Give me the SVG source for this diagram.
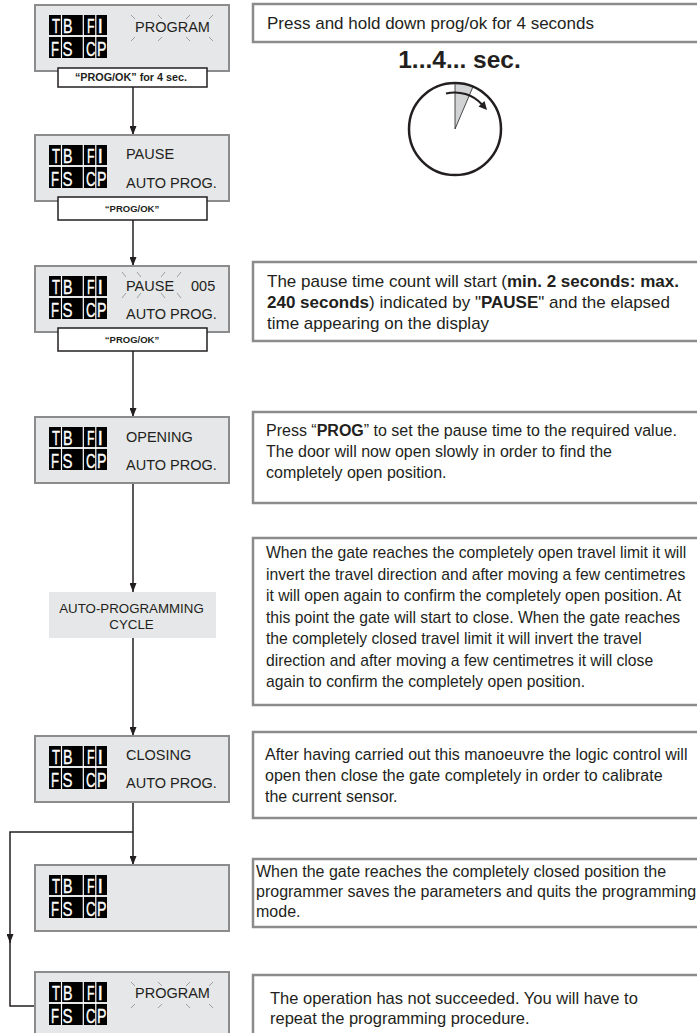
<svg xmlns="http://www.w3.org/2000/svg" xmlns:xlink="http://www.w3.org/1999/xlink" width="697" height="1033" viewBox="0 0 697 1033">
<style>
.lcd{fill:#e6e7e8;stroke:#8c8c8c;stroke-width:2}
.btn{fill:#fff;stroke:#231f20;stroke-width:1.5}
.btxt{font-family:"Liberation Sans",Arial,sans-serif;font-size:9.5px;font-weight:bold;fill:#231f20;text-anchor:middle}
.dt{font-family:"Liberation Sans",Arial,sans-serif;font-size:14.5px;fill:#231f20}
.ico{font-family:"Liberation Sans",Arial,sans-serif;font-size:21px;fill:#fff;stroke:#fff;stroke-width:0.35}
.box{fill:#fff;stroke:#8c8c8c;stroke-width:2.5}
.pt{font-family:"Liberation Sans",Arial,sans-serif;font-size:16px;fill:#231f20}
.p17{font-size:17px}
.p157{font-size:15.7px}
.p165{font-size:16.5px}
.b{font-weight:bold}
.conn{fill:none;stroke:#231f20;stroke-width:1.5}
.spk{stroke:#8c8c8c;stroke-width:0.8}
</style>
<defs>
<marker id="ah" viewBox="0 0 9 7" refX="9" refY="3.5" markerWidth="9" markerHeight="7" markerUnits="userSpaceOnUse" orient="auto"><path d="M0,0 L9,3.5 L0,7 z" fill="#231f20"/></marker>
<g id="icons">
<rect x="49" y="10" width="58" height="20" fill="#000"/>
<rect x="49" y="32" width="58" height="21" fill="#000"/>
<path d="M61.5,10V53M83.3,10V53M95.8,10V53" stroke="#fff" stroke-width="1.2"/>
<text class="ico" x="52" y="28" textLength="8" lengthAdjust="spacingAndGlyphs">T</text>
<text class="ico" x="63" y="28" textLength="9.5" lengthAdjust="spacingAndGlyphs">B</text>
<text class="ico" x="87" y="28" textLength="7.5" lengthAdjust="spacingAndGlyphs">F</text>
<text class="ico" x="97.5" y="28" textLength="5.5" lengthAdjust="spacingAndGlyphs">I</text>
<text class="ico" x="51" y="51" textLength="8" lengthAdjust="spacingAndGlyphs">F</text>
<text class="ico" x="62.5" y="51" textLength="10" lengthAdjust="spacingAndGlyphs">S</text>
<text class="ico" x="86" y="51" textLength="9.5" lengthAdjust="spacingAndGlyphs">C</text>
<text class="ico" x="97" y="51" textLength="9.5" lengthAdjust="spacingAndGlyphs">P</text>
</g>
</defs>

<g id="connectors">
<path class="conn" d="M133,87V135" marker-end="url(#ah)"/>
<path class="conn" d="M133,220V266" marker-end="url(#ah)"/>
<path class="conn" d="M133,351V417" marker-end="url(#ah)"/>
<path class="conn" d="M133,483V592" marker-end="url(#ah)"/>
<path class="conn" d="M133,638V736" marker-end="url(#ah)"/>
<path class="conn" d="M133,802V865" marker-end="url(#ah)"/>
<path class="conn" d="M133,832H10V943" marker-end="url(#ah)"/>
<path class="conn" d="M10,940V1006H35"/>
</g>

<g id="lcd-program-1">
<rect class="lcd" x="35" y="5" width="194" height="66"/>
<use xlink:href="#icons" y="5"/>
<text class="dt" x="135" y="32">PROGRAM</text>
<path class="spk" d="M131,15L135,19M158,15L162,19M190,15L186,19M213,15L209,19M135,37L131,41M162,37L158,41M186,37L190,41M209,37L213,41"/>
</g>
<g id="btn-1">
<rect class="btn" x="58" y="68" width="149" height="19"/>
<text class="btxt" x="131" y="81" style="font-size:10.8px">“PROG/OK” for 4 sec.</text>
</g>

<g id="lcd-pause">
<rect class="lcd" x="35" y="135" width="194" height="66"/>
<use xlink:href="#icons" y="135"/>
<text class="dt" x="126" y="159">PAUSE</text>
<text class="dt" x="126" y="188">AUTO PROG.</text>
</g>
<g id="btn-2">
<rect class="btn" x="58" y="197" width="149" height="23"/>
<text class="btxt" x="132" y="212">“PROG/OK”</text>
</g>

<g id="lcd-pause-005">
<rect class="lcd" x="35" y="266" width="194" height="66"/>
<use xlink:href="#icons" y="266"/>
<text class="dt" x="126" y="291">PAUSE</text>
<text class="dt" x="191" y="291">005</text>
<text class="dt" x="126" y="319">AUTO PROG.</text>
<path class="spk" d="M122,272L126,277M137,272L141,277M165,272L161,277M181,272L177,277M126,293L122,298M141,293L137,298M161,293L165,298M177,293L181,298"/>
</g>
<g id="btn-3">
<rect class="btn" x="58" y="328" width="149" height="23"/>
<text class="btxt" x="132" y="343">“PROG/OK”</text>
</g>

<g id="lcd-opening">
<rect class="lcd" x="35" y="417" width="194" height="66"/>
<use xlink:href="#icons" y="417"/>
<text class="dt" x="126" y="442">OPENING</text>
<text class="dt" x="126" y="470">AUTO PROG.</text>
</g>

<g id="auto-cycle">
<rect x="49" y="592" width="167" height="46" fill="#e6e7e8"/>
<text class="dt" x="131.5" y="613" text-anchor="middle" style="font-size:13.3px">AUTO-PROGRAMMING</text>
<text class="dt" x="131.5" y="629" text-anchor="middle" style="font-size:13.3px">CYCLE</text>
</g>

<g id="lcd-closing">
<rect class="lcd" x="35" y="736" width="194" height="66"/>
<use xlink:href="#icons" y="736"/>
<text class="dt" x="126" y="760">CLOSING</text>
<text class="dt" x="126" y="788">AUTO PROG.</text>
</g>

<g id="lcd-blank">
<rect class="lcd" x="35" y="865" width="194" height="66"/>
<use xlink:href="#icons" y="865"/>
</g>

<g id="lcd-program-2">
<rect class="lcd" x="35" y="972" width="194" height="66"/>
<use xlink:href="#icons" y="972"/>
<text class="dt" x="135" y="998">PROGRAM</text>
<path class="spk" d="M131,982L135,986M158,982L162,986M190,982L186,986M213,982L209,986M135,1004L131,1008M162,1004L158,1008M186,1004L190,1008M209,1004L213,1008"/>
</g>

<g id="note-1">
<rect class="box" x="253" y="4" width="450" height="38"/>
<text class="pt p17" x="267" y="29">Press and hold down prog/ok for 4 seconds</text>
</g>

<g id="clock">
<text x="459.5" y="68" text-anchor="middle" font-family="Liberation Sans,Arial,sans-serif" font-size="24.5" font-weight="bold" fill="#231f20">1...4... sec.</text>
<path d="M455,129L455,83A46,46 0 0 1 473,86.7Z" fill="#d1d3d4" stroke="#231f20" stroke-width="0.8"/>
<circle cx="455" cy="129" r="46" fill="none" stroke="#231f20" stroke-width="2.5"/>
<path d="M446,93.5A36.5,36.5 0 0 1 482,104.5" fill="none" stroke="#231f20" stroke-width="2"/>
<path d="M487,110L478.5,106.5L484.5,101Z" fill="#231f20"/>
</g>

<g id="note-3">
<rect class="box" x="253" y="262" width="450" height="79"/>
<text class="pt p17" x="267" y="287">The pause time count will start (<tspan class="b">min. 2 seconds: max.</tspan></text>
<text class="pt p17" x="267" y="308"><tspan class="b">240 seconds</tspan>) indicated by "<tspan class="b">PAUSE</tspan>" and the elapsed</text>
<text class="pt p17" x="267" y="329">time appearing on the display</text>
</g>

<g id="note-4">
<rect class="box" x="253" y="412" width="450" height="91"/>
<text class="pt" x="266" y="436">Press “<tspan class="b">PROG</tspan>” to set the pause time to the required value.</text>
<text class="pt" x="266" y="457">The door will now open slowly in order to find the</text>
<text class="pt" x="266" y="478">completely open position.</text>
</g>

<g id="note-5">
<rect class="box" x="253" y="538" width="450" height="167"/>
<text class="pt p157" x="266" y="558">When the gate reaches the completely open travel limit it will</text>
<text class="pt p157" x="266" y="580">invert the travel direction and after moving a few centimetres</text>
<text class="pt p157" x="266" y="601">it will open again to confirm the completely open position. At</text>
<text class="pt p157" x="266" y="623">this point the gate will start to close. When the gate reaches</text>
<text class="pt p157" x="266" y="644">the completely closed travel limit it will invert the travel</text>
<text class="pt p157" x="266" y="666">direction and after moving a few centimetres it will close</text>
<text class="pt p157" x="266" y="687">again to confirm the completely open position.</text>
</g>

<g id="note-6">
<rect class="box" x="253" y="732" width="450" height="86"/>
<text class="pt" x="265" y="760">After having carried out this manoeuvre the logic control will</text>
<text class="pt" x="265" y="781">open then close the gate completely in order to calibrate</text>
<text class="pt" x="265" y="802">the current sensor.</text>
</g>

<g id="note-7">
<rect class="box" x="253" y="859" width="450" height="68"/>
<text class="pt" x="256" y="877">When the gate reaches the completely closed position the</text>
<text class="pt" x="256" y="897">programmer saves the parameters and quits the programming</text>
<text class="pt" x="256" y="917">mode.</text>
</g>

<g id="note-8">
<rect class="box" x="253" y="975" width="450" height="65"/>
<text class="pt p165" x="270" y="1004">The operation has not succeeded. You will have to</text>
<text class="pt p165" x="270" y="1024">repeat the programming procedure.</text>
</g>
</svg>
